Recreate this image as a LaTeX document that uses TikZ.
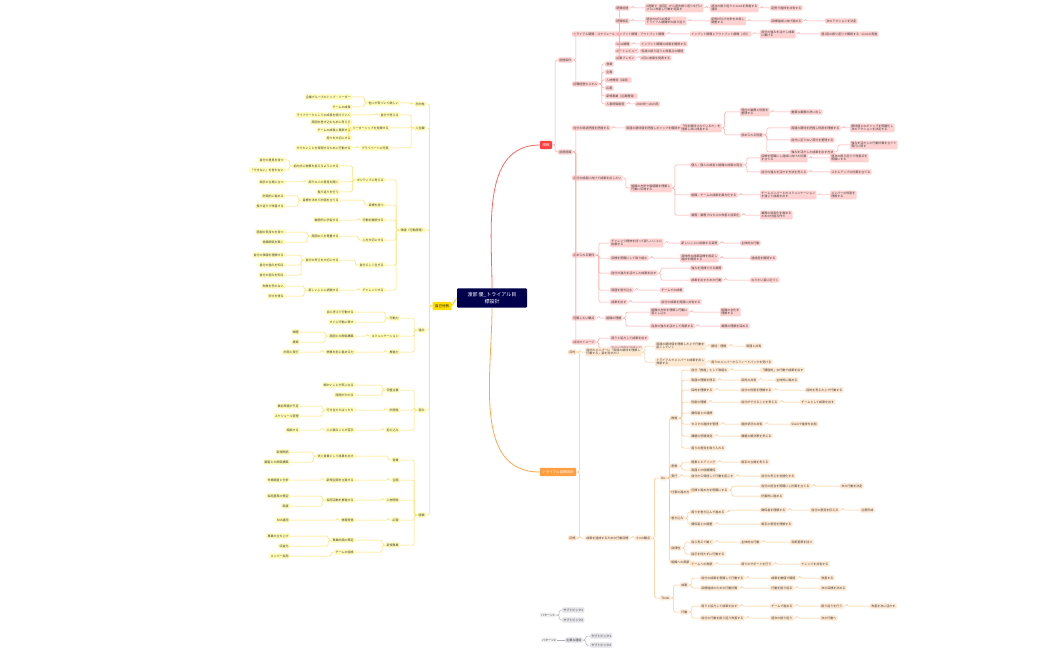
\documentclass[tikz,border=0pt]{standalone}
\usepackage{fontspec}
\setmainfont{Noto Sans CJK JP}
\begin{document}
\begin{tikzpicture}[x=1pt,y=-1pt,
 base/.style={inner sep=1.2pt,rounded corners=1pt,font=\fontsize{3}{3.6}\selectfont,align=left,text=black!75},
 rn/.style={base,fill=red!18,anchor=west},
 on/.style={base,fill=orange!18,anchor=west},
 yn/.style={base,fill=yellow!30,anchor=east},
 gn/.style={base,fill=blue!8!gray!20,anchor=west},
 rl/.style={draw=red!35,line width=0.5pt,rounded corners=1.5pt},
 ol/.style={draw=orange!45,line width=0.5pt,rounded corners=1.5pt},
 yl/.style={draw=yellow!70!orange!60,line width=0.5pt,rounded corners=1.5pt},
 gl/.style={draw=gray!60,line width=0.5pt,rounded corners=1.5pt}]
\useasboundingbox (0,0) rectangle (1050,650);
\fill[white] (0,0) rectangle (1050,650);
% main nodes
\node[fill=blue!30!black,text=white,font=\fontsize{5}{6.5}\selectfont,align=center,inner sep=4pt,rounded corners=1pt,minimum width=70pt] (c) at (492,298) {渡部 優\_トライアル目\\標設計};
\node[fill=red!75,text=white,font=\fontsize{3.5}{4}\selectfont,inner sep=2.5pt,rounded corners=1pt] (info) at (546,145) {情報};
\node[fill=orange!75,text=white,font=\fontsize{3.5}{4}\selectfont,inner sep=2.5pt,rounded corners=1pt] (tr) at (558,472) {トライアル目標設計};
\node[fill=yellow!80!orange,text=black,font=\fontsize{3.5}{4}\selectfont,inner sep=2.5pt,rounded corners=1pt] (self) at (442,306) {自己分析};
\draw[draw=red!60,line width=0.8pt] (c.north) to[out=90,in=180] (info.west);
\draw[draw=orange!70,line width=0.8pt] (c.south) to[out=-90,in=180] (tr.west);
\draw[draw=yellow!70!orange,line width=0.8pt] (c.west) -- (self.east);
% ---------- red ----------
\foreach \n/\x/\y/\p/\t in {
 r1/558/60/info/前提条件, r2/558/152/info/前提認識,
 r11/572/34/r1/トライアル期間・スケジュール, r12/572/84/r1/前職経歴のスキル,
 r111/615/8/r11/期間前提, r112/615/21/r11/期間設定, r113/615/34/r11/インプット期間・アウトプット期間,
 r114/615/44/r11/1on1期間, r115/615/51/r11/ポートレビュー, r116/615/58/r11/成果プレゼン,
 r1111/645/8/r111/2週間で（初回）から週次振り返りを行い\\さらに改善し行動を見直す,
 r1112/710/8/r1111/週次の振り返りと1on1を実施する\\運用, r1113/770/8/r1112/定例で進捗を共有する,
 r1121/645/21/r112/週次のMTGの設定\\トライアル期間中の振り返り, r1122/710/21/r1121/定例MTGで方針を共有し\\調整する, r1123/770/21/r1122/目標達成に向け進める, r1124/825/21/r1123/次のアクションを決定,
 r1131/690/34/r113/インプット期間とアウトプット期間（3日）, r1132/760/34/r1131/自分の強みを活かし成果\\に繋げる, r1133/820/34/r1132/週1回の振り返りで確認する, r1134/860/34/r1133/1on1の実施,
 r1141/640/44/r114/インプット期間の成果を確認する,
 r1151/640/51/r115/各週の振り返りと改善点の確認,
 r1161/640/58/r116/2月に成果を発表する,
 r121/605/64/r12/営業, r122/605/72/r12/企画, r123/605/80/r12/人材開発（採用）, r124/605/88/r12/広報, r125/605/96/r12/新規事業（企画開発）, r126/605/104/r12/人事評価制度,
 r1261/635/104/r126/2020年〜2023年,
 r21/572/128/r2/自分の現状把握を把握する, r22/572/178/r2/自分の成長に向けて成果を出したい,
 r211/625/128/r21/周囲の期待値を把握しギャップを確認する, r2111/680/128/r211/「何を期待されているか」を\\理解し共に成長する,
 r21111/740/112/r2111/現在の業務と役割を\\整理する, r21112/740/135/r2111/求められる役割,
 r211111/790/112/r21111/重要な業務の洗い出し, r211121/790/128/r21112/周囲の期待を把握し役割を理解する, r211122/790/140/r21112/自分に足りない部分を整理する, r211123/790/152/r21112/強みを活かした成果を出す方法,
 r2111211/850/128/r211121/期待値とのギャップを明確化し\\次のアクションを決定する, r2111221/850/145/r211123/強みを活かした行動計画を立てて\\実行に移す,
 r221/630/188/r22/組織の方針や価値観を理解し\\行動に反映する,
 r2211/690/165/r221/個人：個人の成長と組織の成果の両立, r2212/690/195/r221/組織：チームの成果を最大化する,
 r2213/690/215/r221/業務：業務プロセスの改善と効率化,
 r22111/760/158/r2211/目標を明確にし達成に向けた計画\\を立てる, r22112/760/172/r2211/自分の強みを活かす方法を考える,
 r221111/830/158/r22111/週次の振り返りで改善点を\\明確にする, r221121/830/172/r22112/スキルアップの計画を立てる,
 r22121/760/195/r2212/チームメンバーとのコミュニケーション\\を通じて成果を出す, r221211/830/195/r22121/メンバーの役割を\\理解する,
 r22131/760/215/r2213/業務の効率化を進める\\ための仕組み作り,
 r23/572/255/r2/求められる要件, r231/610/243/r23/チャレンジ精神を持って新しいことに\\挑戦する, r2311/680/243/r231/新しいことに挑戦する姿勢, r23111/740/243/r2311/主体的な行動,
 r232/610/258/r23/目標を明確にして取り組む, r2321/680/258/r232/具体的な成果目標を設定し\\進捗を確認する, r23211/750/258/r2321/達成度を確認する,
 r233/610/273/r23/自分の強みを活かした成果を出す, r2331/690/268/r233/強みを発揮できる業務, r2332/690/280/r233/成果を出すための行動, r23321/750/280/r2332/なりたい姿に近づく,
 r234/610/290/r23/周囲を巻き込む, r2341/660/290/r234/チームでの成果, r235/610/302/r23/成果を出す, r2351/660/302/r235/自分の成果を周囲に共有する,
 r24/572/318/r2/理解したい観点, r241/605/318/r24/組織の理解, r2411/650/312/r241/組織の方針を理解し行動に\\落とし込む, r2412/650/326/r241/自身の強みを活かして貢献する,
 r24111/720/312/r2411/組織の文化を\\理解する, r24121/720/326/r2412/業務の理解を深める,
 r25/572/342/r2/成功のイメージ, r251/610/338/r25/周りと協力して成果を出す, r252/610/348/r25/自分の価値を発揮する}
 {\node[rn] (\n) at (\x,\y) {\t};
  \draw[rl] (\p.east) -- ++(3,0) |- (\n.west);}
% ---------- orange ----------
\foreach \n/\x/\y/\p/\t in {
 o1/568/352/tr/目的, o2/568/538/tr/目標,
 o11/585/352/o1/自社のメンバーに「周囲の期待を理解し\\行動する」姿を見せたい,
 o111/655/346/o11/周囲の期待値を理解した上で行動を\\起こしていく, o1111/710/346/o111/期待・理解, o1112/745/346/o1111/周囲と共有,
 o112/655/362/o11/トライアルでメンバーと成果を出し\\貢献する, o1121/710/362/o112/周りのメンバーからフィードバックを受ける,
 o21/585/538/o2/成果を達成するための行動目標, o211/635/538/o21/3つの観点,
 o2111/660/478/o211/Do, o2112/660/598/o211/Think,
 d1/670/418/o2111/推進, d2/670/466/o2111/思想, d3/670/476/o2111/実行, d4/670/492/o2111/仕事の進め方,
 d5/670/518/o2111/巻き込み, d6/670/548/o2111/自律性, d7/670/562/o2111/組織への貢献,
 d11/690/370/d1/自分「推進」として取組む, d12/690/380/d1/周囲の理解を得る, d13/690/390/d1/目的を理解する, d14/690/402/d1/役割の理解,
 d15/690/413/d1/関係者との連携, d16/690/424/d1/タスクの進捗を管理, d17/690/436/d1/課題の早期発見,
 d18/690/448/d1/周りの意見を取り入れる,
 d111/760/370/d11/「積極的」な行動で成果を出す, d121/740/380/d12/目的の共有, d1211/775/380/d121/主体的に進める,
 d131/740/390/d13/自分の役割を理解する, d1311/805/390/d131/目的を考えた上で行動する,
 d141/740/402/d14/自分ができることを考える, d1411/800/402/d141/チームとして成果を出す,
 d161/740/424/d16/進捗状況の共有, d1611/790/424/d161/Slackで進捗を共有,
 d171/740/436/d17/課題の解決策を考える,
 d21/690/462/d2/提案とヒアリング, d211/740/462/d21/相手の立場を考える, d22/690/470/d2/周囲との信頼関係,
 d31/690/476/d3/自分から発信して行動を起こす, d311/760/476/d31/自分の考えを言語化する,
 d41/690/490/d4/目標と進め方を明確にする, d411/760/486/d41/自分の担当を明確にし計画を立てる, d4111/840/486/d411/次の行動を決定, d412/760/496/d41/計画的に進める,
 d51/690/512/d5/周りを巻き込んで進める, d511/760/510/d51/関係者を理解する, d5111/810/510/d511/自分の意見を伝える, d51111/860/510/d5111/合意形成,
 d52/690/524/d5/関係者との調整, d521/760/524/d52/相手の意見を理解する,
 d61/690/542/d6/自ら考えて動く, d611/740/542/d61/主体的な行動, d6111/790/542/d611/判断基準を持つ, d62/690/554/d6/指示を待たずに行動する,
 d71/690/564/d7/チームへの貢献, d711/740/564/d71/周りのサポートを行う, d7111/800/564/d711/ナレッジを共有する,
 t1/680/585/o2112/成果, t11/700/578/t1/自分の成果を意識して行動する, t111/770/578/t11/成果を数値で確認, t1111/820/578/t111/改善する,
 t12/700/588/t1/目標達成のための行動計画, t121/770/588/t12/行動を振り返る, t1211/820/588/t121/次の目標を決める,
 t2/680/612/o2112/行動, t21/700/606/t2/周りと協力して成果を出す, t211/770/606/t21/チームで進める, t2111/820/606/t211/振り返りを行う, t21111/870/606/t2111/改善を次に活かす,
 t22/700/618/t2/自分の行動を振り返り改善する, t221/770/618/t22/週次の振り返り, t2211/820/618/t221/次の行動へ}
 {\node[on] (\n) at (\x,\y) {\t};
  \draw[ol] (\p.east) -- ++(3,0) |- (\n.west);}
% ---------- yellow ----------
\foreach \n/\x/\y/\p/\t in {
 y1/426/104/self/志向性, y2/426/128/self/人生観, y3/426/230/self/価値（行動原理）, y4/426/330/self/強み, y5/426/410/self/弱み, y6/426/515/self/経験,
 y11/400/103/y1/他人が気づいて欲しい, y111/352/97/y11/企業グループのトップ・リーダー, y112/352/107/y11/チームの成長,
 y21/400/115/y2/自分で考える, y211/352/115/y21/ライフワークとしての成長を続けていく,
 y22/390/128/y2/リーダーシップを発揮する, y221/352/122/y22/周囲を巻き込むために考える, y222/352/130/y22/チームの成長に貢献する, y223/352/138/y22/周りを大切にする,
 y23/390/148/y2/プライベートの充実, y231/352/148/y23/やりたいことを実現するために行動する,
 y31/385/180/y3/ポジティブに考える, y311/340/166/y31/前向きに物事を捉えるようにする, y3111/285/160/y311/自分の意見を持つ, y3112/285/170/y311/「できない」を言わない,
 y312/340/182/y31/周りの人の意見を聞く, y3121/285/182/y312/相手の立場に立つ, y313/340/192/y31/振り返りを行う,
 y32/385/205/y3/目標を持つ, y321/340/200/y32/目標を決めて計画を立てる, y3211/285/196/y321/計画的に進める, y3212/285/206/y321/振り返りで改善する,
 y33/385/220/y3/行動を継続する, y331/340/220/y33/継続的に学習する,
 y34/385/240/y3/人を大切にする, y341/340/236/y34/周囲の人を尊重する, y3411/285/232/y341/感謝の気持ちを持つ, y3412/285/242/y341/信頼関係を築く,
 y35/385/265/y3/自分らしく生きる, y351/340/260/y35/自分の考えを大切にする, y3511/285/255/y351/自分の価値を理解する, y3512/285/265/y351/自分の強みを知る, y3513/285/275/y351/自分の弱みを知る,
 y36/385/290/y3/チャレンジする, y361/340/290/y36/新しいことに挑戦する, y3611/285/286/y361/失敗を恐れない, y3612/285/296/y361/学びを得る,
 y41/400/318/y4/行動力, y411/355/312/y41/自ら考えて行動する, y412/355/322/y41/すぐに行動に移す,
 y42/400/336/y4/コミュニケーション, y421/355/336/y42/周囲との関係構築, y4211/300/332/y421/傾聴, y4212/300/342/y421/提案,
 y43/400/352/y4/推進力, y431/355/352/y43/物事を前に進める力, y4311/300/352/y431/計画と実行,
 y51/400/390/y5/完璧主義, y511/355/385/y51/細かいことが気になる, y512/355/395/y51/時間がかかる,
 y52/400/410/y5/計画性, y521/355/410/y52/行き当たりばったり, y5211/300/406/y521/事前準備が不足, y5212/300/416/y521/スケジュール管理,
 y53/400/430/y5/抱え込み, y531/355/430/y53/人に頼ることが苦手, y5311/300/430/y531/相談する,
 y61/400/460/y6/営業, y611/355/456/y61/法人営業として成果を出す, y6111/290/452/y611/新規開拓, y6112/290/462/y611/顧客との関係構築,
 y62/400/480/y6/企画, y621/355/480/y62/新規企画を立案する, y6211/290/480/y621/市場調査と分析,
 y63/400/500/y6/人材開発, y631/355/500/y63/採用活動を推進する, y6311/290/496/y631/採用基準の策定, y6312/290/506/y631/面接,
 y64/400/520/y6/広報, y641/355/520/y64/情報発信, y6411/290/520/y641/SNS運用,
 y65/400/545/y6/新規事業, y651/355/540/y65/事業計画の策定, y6511/290/536/y651/事業の立ち上げ, y6512/290/546/y651/収益化, y652/355/552/y65/チームの組成, y6521/290/556/y652/メンバー採用}
 {\node[yn] (\n) at (\x,\y) {\t};
  \draw[yl] (\p.west) -- ++(-3,0) |- (\n.east);}
% ---------- legend ----------
\node[base,fill=gray!12] (p1) at (548,615) {パターン1};
\node[gn] (s1) at (562,610) {サブトピック1};
\node[gn] (s2) at (562,620) {サブトピック2};
\draw[gl] (p1.east) -- ++(3,0) |- (s1.west);
\draw[gl] (p1.east) -- ++(3,0) |- (s2.west);
\node[base,fill=gray!12] (p2) at (549,640) {パターン2};
\node[gn] (m) at (565,640) {主要な連結};
\node[gn] (s3) at (590,636) {サブトピック1};
\node[gn] (s4) at (590,645) {サブトピック2};
\draw[gl] (p2.east) -- (m.west);
\draw[gl] (m.east) -- ++(3,0) |- (s3.west);
\draw[gl] (m.east) -- ++(3,0) |- (s4.west);
\end{tikzpicture}
\end{document}
